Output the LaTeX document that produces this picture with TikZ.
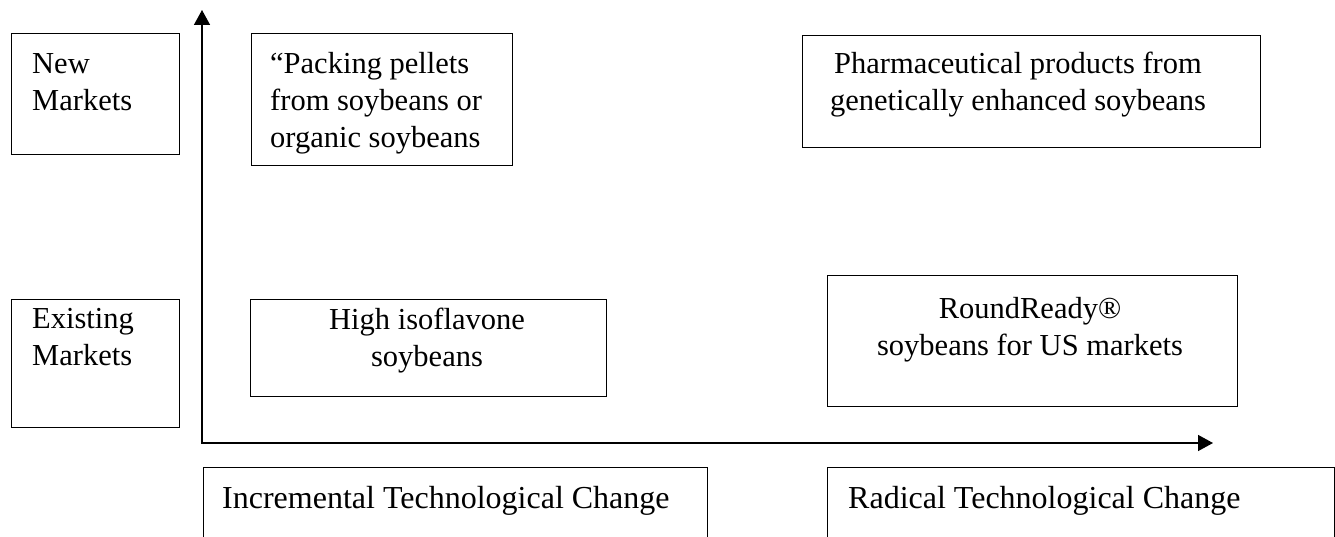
\documentclass[tikz,border=0pt]{standalone}
\usepackage{fontspec}
\setmainfont{Liberation Serif}
\usetikzlibrary{arrows.meta}
\begin{document}
\begin{tikzpicture}[x=1pt,y=-1pt,
  frame/.style={draw=black, line width=1.3pt, inner sep=0pt, anchor=north west},
  txt/.style={font=\fontsize{30.5}{37}\selectfont, inner sep=0pt},
  txtl/.style={txt, anchor=north west, align=left},
  txtc/.style={txt, anchor=north, align=center},
  txtb/.style={font=\fontsize{32}{37}\selectfont, inner sep=0pt, anchor=north west, align=left},
  axis/.style={line width=1.5pt, {Triangle[length=15pt,width=16pt]}-{Triangle[length=15pt,width=16pt]}}]
\useasboundingbox (0,0) rectangle (1335,537);
\clip (0,0) rectangle (1335,537);
\fill[white] (0,0) rectangle (1335,537);

% boxes
\node[frame, minimum width=168pt, minimum height=121pt] (newm) at (11,33) {};
\node[frame, minimum width=261pt, minimum height=132pt] (pack) at (251,33) {};
\node[frame, minimum width=458pt, minimum height=112pt] (pharma) at (802,35) {};
\node[frame, minimum width=168pt, minimum height=128pt] (exist) at (11,299) {};
\node[frame, minimum width=356pt, minimum height=97pt] (iso) at (250,299) {};
\node[frame, minimum width=410pt, minimum height=131pt] (round) at (827,275) {};
\node[frame, minimum width=504pt, minimum height=120pt] (incr) at (203,467) {};
\node[frame, minimum width=507pt, minimum height=120pt] (radical) at (827,467) {};

% texts
\node[txtl] (newmT) at (32,47.1) {\strut New\\Markets};
\node[txtl] (packT) at (270,47.1) {\strut “Packing pellets\\from soybeans or\\organic soybeans};
\node[txtc] (pharmaT) at (1018,47.1) {\strut Pharmaceutical products from\\genetically enhanced soybeans};
\node[txtl] (existT) at (32,302.1) {\strut Existing\\Markets};
\node[txtc] (isoT) at (427,303.1) {\strut High isoflavone\\soybeans};
\node[txtc] (roundT) at (1030,292.1) {\strut RoundReady®\\soybeans for US markets};
\node[txtb] (incrT) at (222,482.1) {\strut Incremental Technological Change};
\node[txtb] (radicalT) at (848,482.1) {\strut Radical Technological Change};

% axes
\coordinate (ytip) at (202,10);
\coordinate (origin) at (202,443);
\coordinate (xtip) at (1213,443);
\draw[axis] (ytip) -- (origin) -- (xtip);
\end{tikzpicture}
\end{document}
